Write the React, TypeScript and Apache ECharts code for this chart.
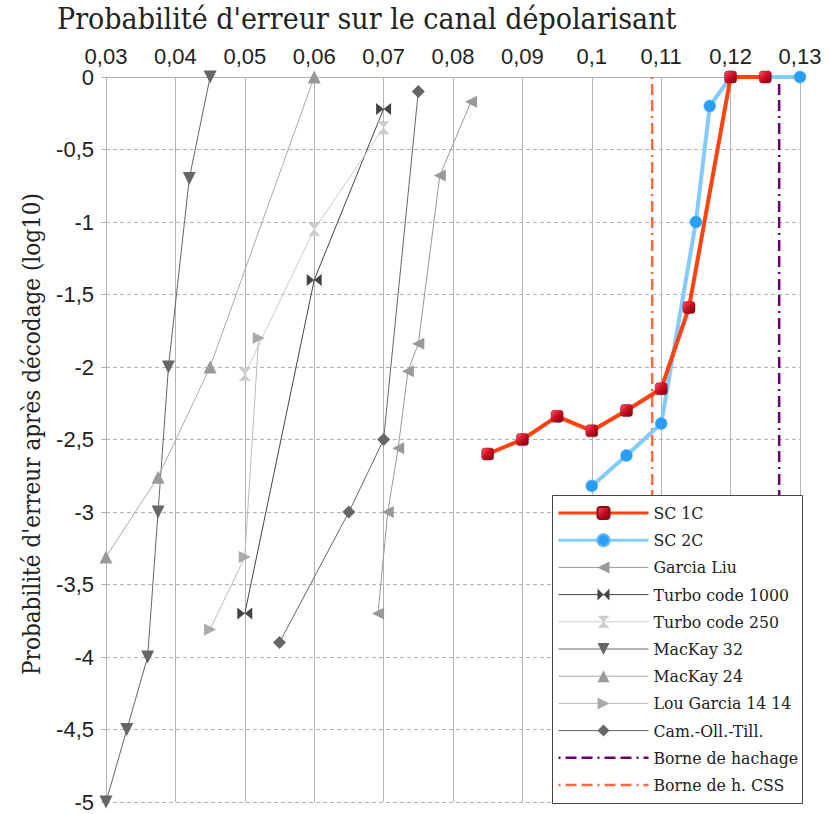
import React, { useEffect, useRef } from "react";
import * as echarts from "echarts";

const xTickMin = 0.03;
const xTickMax = 0.13;
const yTickMin = -5;
const yTickMax = 0;

const sc1c: [number, number][] = [
  [0.085, -2.6], [0.09, -2.5], [0.095, -2.34], [0.1, -2.44], [0.105, -2.3],
  [0.11, -2.15], [0.114, -1.59], [0.12, 0], [0.125, 0],
];
const sc2c: [number, number][] = [
  [0.1, -2.82], [0.105, -2.61], [0.11, -2.39], [0.115, -1.0], [0.117, -0.2],
  [0.12, 0], [0.13, 0],
];
const garciaLiu: [number, number][] = [
  [0.0826, -0.17], [0.0781, -0.68], [0.075, -1.84], [0.0735, -2.03],
  [0.0721, -2.56], [0.0706, -3.0], [0.0692, -3.7],
];
const turbo1000: [number, number][] = [[0.07, -0.22], [0.06, -1.4], [0.05, -3.7]];
const turbo250: [number, number][] = [[0.07, -0.35], [0.06, -1.05], [0.05, -2.05]];
const mackay32: [number, number][] = [
  [0.045, 0], [0.042, -0.7], [0.039, -2.0], [0.0375, -3.0], [0.036, -4.0],
  [0.033, -4.5], [0.03, -5.0],
];
const mackay24: [number, number][] = [[0.06, 0], [0.045, -2.0], [0.0375, -2.76], [0.03, -3.31]];
const louGarcia: [number, number][] = [[0.052, -1.8], [0.05, -3.31], [0.045, -3.81]];
const camOllTill: [number, number][] = [[0.075, -0.1], [0.07, -2.5], [0.065, -3.0], [0.055, -3.9]];
const hashingBound = 0.127;
const hashingBoundCSS = 0.1087;

const legendNames = [
  "SC 1C", "SC 2C", "Garcia Liu", "Turbo code 1000", "Turbo code 250",
  "MacKay 32", "MacKay 24", "Lou Garcia 14 14", "Cam.-Oll.-Till.",
  "Borne de hachage", "Borne de h. CSS",
];
const legendLineWidths = [3, 3, 1, 1, 1, 1, 1, 1, 1, 2.5, 2.5];

const SERIF = "'DejaVu Serif Condensed', 'DejaVu Serif', serif";
const SANS = "'Liberation Sans', Arial, sans-serif";

const bowtie = "path://M0,0 L10,5 L0,10 Z M20,0 L10,5 L20,10 Z";
const hourglass = "path://M0,0 L10,0 L5,5 Z M0,10 L10,10 L5,5 Z";

function graySeries(name: string, data: [number, number][], lineColor: string, markColor: string, symbol: string, rotate: number, size: number | number[]) {
  return {
    name,
    type: "line",
    data,
    z: 2,
    symbol,
    symbolRotate: rotate,
    symbolSize: size,
    lineStyle: { color: lineColor, width: 1 },
    itemStyle: { color: markColor },
    emphasis: { disabled: true },
  };
}

function vline(name: string, x: number, color: string) {
  return {
    name,
    type: "line",
    data: [[x, yTickMax], [x, yTickMin]],
    z: 1,
    symbol: "none",
    lineStyle: { color, width: 2.5, type: [2, 5, 11, 5, 11, 5] },
    itemStyle: { color: "rgba(0,0,0,0)" },
    emphasis: { disabled: true },
  };
}

const fmt = (v: number) => String(parseFloat(v.toFixed(2))).replace(".", ",");

export default function App() {
  const ref = useRef<HTMLDivElement>(null);
  useEffect(() => {
    document.body.style.margin = "0";
    const chart = echarts.init(ref.current!, null, { renderer: "svg" });
    const option = {
      animation: false,
      backgroundColor: "#ffffff",
      grid: { left: 106, right: 28, top: 77, bottom: 12, containLabel: false },
      xAxis: {
        type: "value",
        position: "top",
        min: xTickMin,
        max: xTickMax,
        interval: 0.01,
        axisLine: { show: true, onZero: false, lineStyle: { color: "#b3b3b3", width: 1 } },
        axisTick: { show: false },
        axisLabel: { formatter: fmt, fontFamily: SANS, fontSize: 22, color: "#222", margin: 10 },
        splitLine: { show: true, lineStyle: { color: "#b3b3b3", width: 1, type: "solid" } },
      },
      yAxis: {
        type: "value",
        min: yTickMin,
        max: yTickMax,
        interval: 0.5,
        axisLine: { show: true, onZero: false, lineStyle: { color: "#b3b3b3", width: 1 } },
        axisTick: { show: true, inside: false, length: 5, lineStyle: { color: "#b3b3b3" } },
        axisLabel: { formatter: fmt, fontFamily: SANS, fontSize: 22, color: "#222", margin: 12 },
        splitLine: { show: true, lineStyle: { color: "#b3b3b3", width: 1, type: [4, 3] } },
      },
      legend: {
        orient: "vertical",
        left: 557,
        top: 504,
        padding: 0,
        z: 60,
        data: legendNames.map((name, i) => ({ name, lineStyle: { width: legendLineWidths[i] } })),
        itemWidth: 90,
        itemHeight: 15,
        itemGap: 9.2,
        selectedMode: false,
        textStyle: { fontFamily: SERIF, fontSize: 17.5, color: "#222" },
      },
      graphic: [
        {
          type: "rect",
          left: 552,
          top: 495,
          z: 50,
          shape: { width: 250, height: 308 },
          style: { fill: "#ffffff", stroke: "#444", lineWidth: 1 },
          silent: true,
        },
        {
          type: "text",
          left: 57,
          top: 3,
          style: { text: "Probabilité d'erreur sur le canal dépolarisant", font: `30px ${SERIF}`, fill: "#222" },
        },
        {
          type: "text",
          x: 32,
          y: 434,
          rotation: Math.PI / 2,
          style: {
            text: "Probabilité d'erreur après décodage (log10)",
            font: `24px ${SERIF}`,
            fill: "#222",
            align: "center",
            verticalAlign: "middle",
          },
        },
      ],
      series: [
        vline("Borne de hachage", hashingBound, "#6a006e"),
        vline("Borne de h. CSS", hashingBoundCSS, "#ff6a3d"),
        graySeries("Garcia Liu", garciaLiu, "#999999", "#999999", "triangle", 90, 12),
        graySeries("Turbo code 1000", turbo1000, "#444444", "#444444", bowtie, 0, [15, 12]),
        graySeries("Turbo code 250", turbo250, "#cccccc", "#cccccc", hourglass, 0, [12, 13]),
        graySeries("MacKay 32", mackay32, "#666666", "#666666", "triangle", 180, 13),
        graySeries("MacKay 24", mackay24, "#aaaaaa", "#999999", "triangle", 0, 13),
        graySeries("Lou Garcia 14 14", louGarcia, "#bbbbbb", "#aaaaaa", "triangle", -90, 12),
        graySeries("Cam.-Oll.-Till.", camOllTill, "#666666", "#666666", "diamond", 0, 13),
        {
          name: "SC 2C",
          type: "line",
          data: sc2c,
          z: 4,
          symbol: "circle",
          symbolSize: 12,
          lineStyle: { color: "#83caff", width: 4 },
          itemStyle: { color: "#2a9df4", borderColor: "#5fb6f5", borderWidth: 0.5 },
          emphasis: { disabled: true },
        },
        {
          name: "SC 1C",
          type: "line",
          data: sc1c,
          z: 5,
          symbol: "roundRect",
          symbolSize: 12,
          lineStyle: { color: "#ff420e", width: 4 },
          itemStyle: {
            color: new echarts.graphic.LinearGradient(0, 0, 1, 1, [
              { offset: 0, color: "#ff5a6a" },
              { offset: 0.45, color: "#d01025" },
              { offset: 1, color: "#7a0010" },
            ]),
            borderColor: "#8a0a18",
            borderWidth: 0.5,
          },
          emphasis: { disabled: true },
        },
      ],
    };
    chart.setOption(option as any);
    return () => chart.dispose();
  }, []);
  return <div ref={ref} style={{ width: 828, height: 814 }} />;
}
